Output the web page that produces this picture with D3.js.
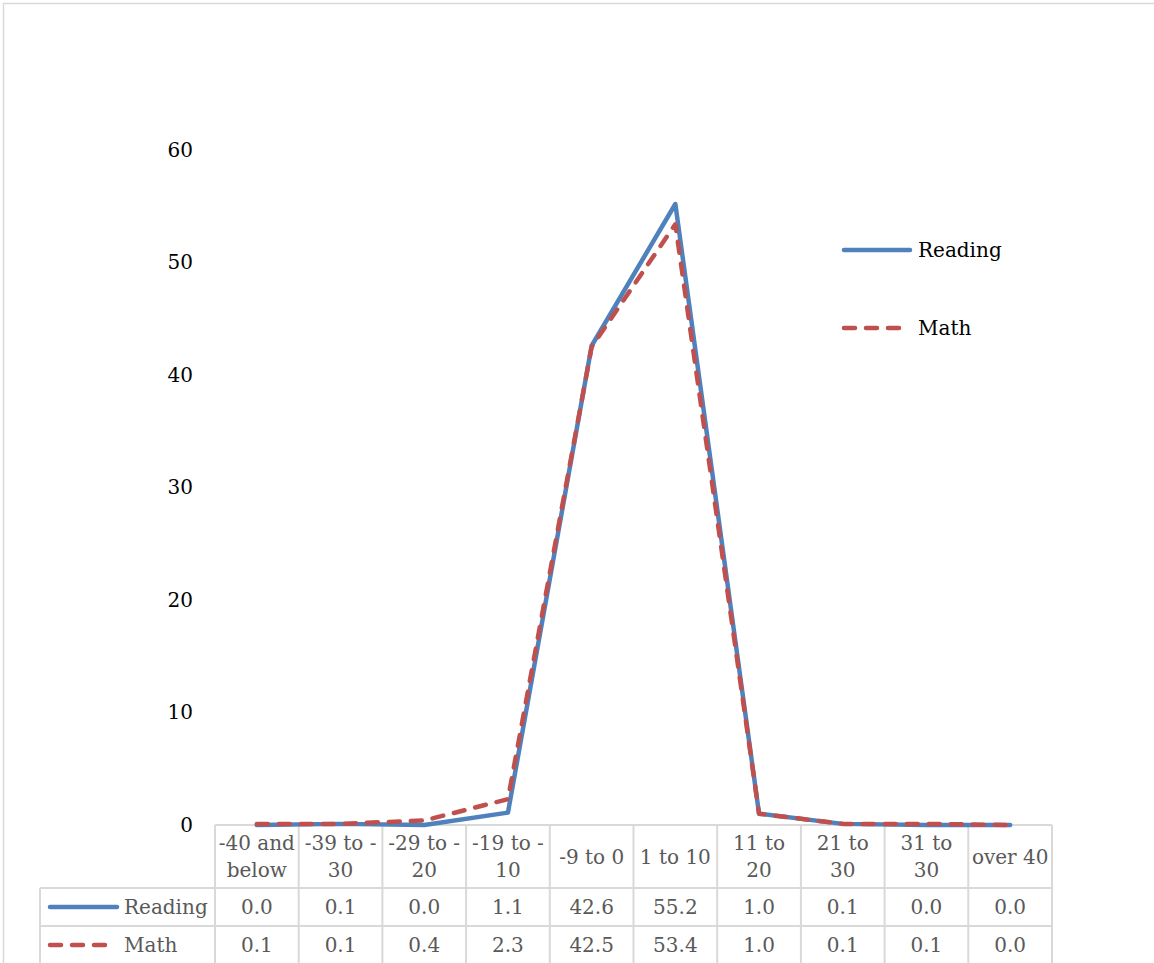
<!DOCTYPE html>
<html>
<head>
<meta charset="utf-8">
<script src="https://cdn.jsdelivr.net/npm/d3@7"></script>
<style>
  body { margin: 0; background: #fff; }
  text { font-family: "DejaVu Serif", serif; }
</style>
</head>
<body>
<div id="chart"></div>
<script>
// categories (with the line breaks the data table uses)
const categories = ["-40 and\nbelow", "-39 to -\n30", "-29 to -\n20", "-19 to -\n10", "-9 to 0",
  "1 to 10", "11 to\n20", "21 to\n30", "31 to\n30", "over 40"];
const reading = [0.0, 0.1, 0.0, 1.1, 42.6, 55.2, 1.0, 0.1, 0.0, 0.0];
const math = [0.1, 0.1, 0.4, 2.3, 42.5, 53.4, 1.0, 0.1, 0.1, 0.0];
const yTicks = [0, 10, 20, 30, 40, 50, 60];

const series = [
  {name: 'Reading', values: reading, color: '#4f81bd', dash: null},
  {name: 'Math', values: math, color: '#c0504d', dash: '11,11'}
];

const width = 1154, height = 963;
const plot = {left: 215, right: 1052, top: 150, bottom: 825};
const tableRows = [825, 888, 926, 964];
const legendLeft = 40;
const grid = '#d9d9d9';
const lineW = 4.5;

const svg = d3.select('#chart').append('svg')
  .attr('width', width)
  .attr('height', height);

// outer chart frame
svg.append('rect')
  .attr('x', 3.5).attr('y', 3.5)
  .attr('width', width + 10).attr('height', height + 10)
  .attr('fill', 'none')
  .attr('stroke', grid)
  .attr('stroke-width', 1.5);

const x = d3.scaleBand()
  .domain(d3.range(categories.length))
  .range([plot.left, plot.right]);

const y = d3.scaleLinear()
  .domain([0, 60])
  .range([plot.bottom, plot.top]);

// y axis labels
const yAxis = svg.append('g')
  .attr('transform', `translate(${plot.left - 22},0)`)
  .call(d3.axisLeft(y).tickValues(yTicks).tickSize(0).tickPadding(0));
yAxis.select('.domain').remove();
yAxis.selectAll('text')
  .attr('font-size', 20)
  .attr('font-family', '"DejaVu Serif", serif')
  .attr('fill', '#000');

// data table grid
const table = svg.append('g');
const colEdges = d3.range(categories.length + 1).map(i => i < categories.length ? x(i) : plot.right);
// horizontal lines
table.append('line')
  .attr('x1', plot.left).attr('x2', plot.right)
  .attr('y1', tableRows[0]).attr('y2', tableRows[0]);
[1, 2].forEach(r => {
  table.append('line')
    .attr('x1', legendLeft).attr('x2', plot.right)
    .attr('y1', tableRows[r]).attr('y2', tableRows[r]);
});
// vertical lines
colEdges.forEach(cx => {
  table.append('line')
    .attr('x1', cx).attr('x2', cx)
    .attr('y1', tableRows[0]).attr('y2', tableRows[3]);
});
table.append('line')
  .attr('x1', legendLeft).attr('x2', legendLeft)
  .attr('y1', tableRows[1]).attr('y2', tableRows[3]);
table.selectAll('line')
  .attr('stroke', grid)
  .attr('stroke-width', 2);

// header labels
categories.forEach((c, i) => {
  const lines = c.split('\n');
  const cy = (tableRows[0] + tableRows[1]) / 2;
  const t = table.append('text')
    .attr('x', x(i) + x.bandwidth() / 2)
    .attr('text-anchor', 'middle')
    .attr('font-size', 20)
    .attr('fill', '#595959');
  lines.forEach((l, k) => {
    t.append('tspan')
      .attr('x', x(i) + x.bandwidth() / 2)
      .attr('y', cy + 7 + (k - (lines.length - 1) / 2) * 27)
      .text(l);
  });
});

// value rows with legend keys
series.forEach((s, r) => {
  const cy = (tableRows[r + 1] + tableRows[r + 2]) / 2;
  table.selectAll(null)
    .data(s.values)
    .join('text')
    .attr('x', (d, i) => x(i) + x.bandwidth() / 2)
    .attr('y', cy + 7)
    .attr('text-anchor', 'middle')
    .attr('font-size', 20)
    .attr('fill', '#595959')
    .text(d => d3.format('.1f')(d));
  table.append('line')
    .attr('x1', 50).attr('x2', s.dash ? 108 : 117)
    .attr('y1', cy).attr('y2', cy)
    .attr('stroke', s.color)
    .attr('stroke-width', lineW)
    .attr('stroke-linecap', 'round')
    .attr('stroke-dasharray', s.dash);
  table.append('text')
    .attr('x', 124).attr('y', cy + 7)
    .attr('font-size', 20)
    .attr('fill', '#595959')
    .text(s.name);
});

// series lines
const line = d3.line()
  .x((d, i) => x(i) + x.bandwidth() / 2)
  .y(d => y(d));

svg.append('g')
  .selectAll('path')
  .data(series)
  .join('path')
  .attr('d', d => line(d.values))
  .attr('fill', 'none')
  .attr('stroke', d => d.color)
  .attr('stroke-width', lineW)
  .attr('stroke-linejoin', 'round')
  .attr('stroke-linecap', 'round')
  .attr('stroke-dasharray', d => d.dash);

// legend
const legend = svg.append('g')
  .selectAll('g')
  .data(series)
  .join('g')
  .attr('transform', (d, i) => `translate(841,${250 + i * 78})`);
legend.append('line')
  .attr('x1', 3).attr('x2', d => d.dash ? 62 : 69)
  .attr('stroke', d => d.color)
  .attr('stroke-width', lineW)
  .attr('stroke-linecap', 'round')
  .attr('stroke-dasharray', d => d.dash);
legend.append('text')
  .attr('x', 77).attr('y', 7)
  .attr('font-size', 20)
  .attr('fill', '#000')
  .text(d => d.name);
</script>
</body>
</html>
